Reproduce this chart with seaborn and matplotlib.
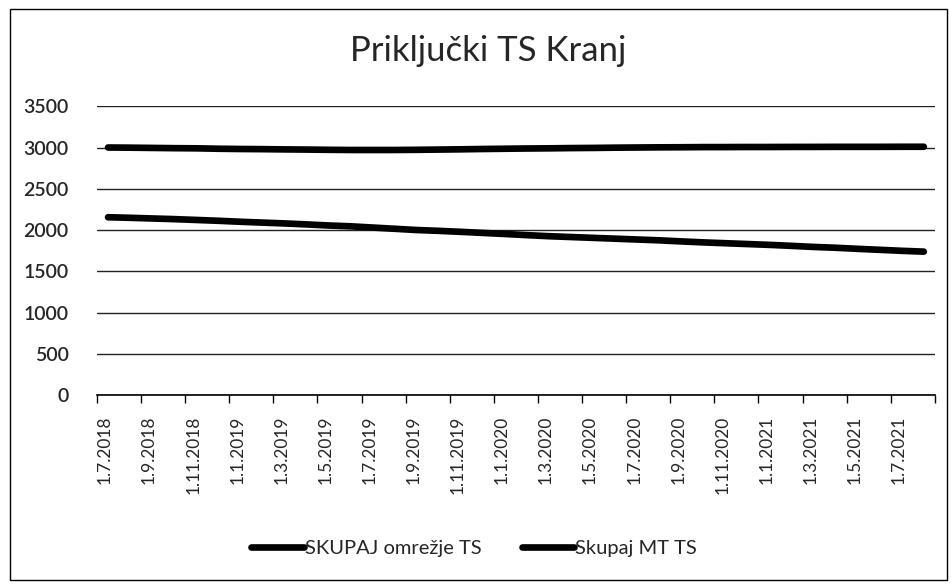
import matplotlib.pyplot as plt
import matplotlib.patches as mpatches
import numpy as np
import pandas as pd
import seaborn as sns

# monthly values, 1.7.2018 .. 1.8.2021
months = pd.date_range("2018-07-01", "2021-08-01", freq="MS")

omrezje_ts = [
    2155, 2148, 2140, 2132, 2122, 2112, 2100, 2090, 2080, 2068,
    2055, 2045, 2030, 2015, 2000, 1990, 1978, 1965, 1952, 1938,
    1925, 1915, 1905, 1895, 1885, 1875, 1862, 1850, 1840, 1830,
    1820, 1808, 1795, 1785, 1772, 1760, 1748, 1738,
]
mt_ts = [
    3000, 2998, 2995, 2992, 2990, 2985, 2982, 2980, 2977, 2975,
    2972, 2970, 2970, 2970, 2972, 2975, 2978, 2982, 2985, 2988,
    2990, 2993, 2995, 2998, 3000, 3002, 3003, 3005, 3005, 3006,
    3006, 3007, 3007, 3008, 3008, 3008, 3009, 3009,
]
series_names = ["SKUPAJ omrežje TS", "Skupaj MT TS"]
y_ticks = [0, 500, 1000, 1500, 2000, 2500, 3000, 3500]

sns.set_style("white")
plt.rcParams["font.family"] = ["Lato", "DejaVu Sans"]

# -----------------------------
# long form data
# -----------------------------
df = pd.DataFrame({
    "month": list(range(len(months))) * 2,
    "value": omrezje_ts + mt_ts,
    "series": [series_names[0]] * len(months) + [series_names[1]] * len(months),
})
# Excel date axis: points sit in the middle of each month slot
df["x"] = df["month"] + 0.5

fig = plt.figure(figsize=(9.51, 5.87), dpi=100)
ax = fig.add_axes([0.102, 0.327, 0.881, 0.492])

sns.lineplot(
    data=df, x="x", y="value", hue="series", hue_order=series_names,
    palette=["black", "black"], linewidth=4.8, ax=ax, legend=True,
)
for ln in ax.get_lines():
    ln.set_solid_capstyle("round")

ax.set_xlim(0, len(months))
ax.set_ylim(0, 3500)
ax.set_yticks(y_ticks)
ax.set_yticklabels([str(v) for v in y_ticks], fontsize=14, fontweight="semibold")

tick_pos = list(range(0, len(months) + 1, 2))
tick_lab = [f"{d.day}.{d.month}.{d.year}" for d in months[::2]]
tick_lab += [""] * (len(tick_pos) - len(tick_lab))
ax.set_xticks(tick_pos)
ax.set_xticklabels(tick_lab, rotation=90, fontsize=12.5)
for t in ax.get_xticklabels():
    t.set_horizontalalignment("left")

ax.grid(axis="y", color="#222222", linewidth=1.0)
ax.set_axisbelow(True)
for s in ["top", "right", "left"]:
    ax.spines[s].set_visible(False)
ax.spines["bottom"].set_color("black")
ax.spines["bottom"].set_linewidth(1.2)
ax.tick_params(axis="x", bottom=True, length=6, width=1, color="black", pad=9)
ax.tick_params(axis="y", left=False, pad=17)
ax.set_xlabel("")
ax.set_ylabel("")

fig.suptitle("Priključki TS Kranj", x=0.513, y=0.941, fontsize=25)

handles, labels = ax.get_legend_handles_labels()
ax.legend(
    handles, labels, loc="center", bbox_to_anchor=(0.45, -0.53),
    ncol=2, frameon=False, fontsize=14.5, handlelength=2.6,
    handletextpad=0.05, columnspacing=2.0,
)

fig.patches.append(mpatches.Rectangle(
    (0.011, 0.012), 0.985, 0.973, transform=fig.transFigure,
    fill=False, edgecolor="black", linewidth=1.0,
))

plt.savefig("out.png", dpi=100)
